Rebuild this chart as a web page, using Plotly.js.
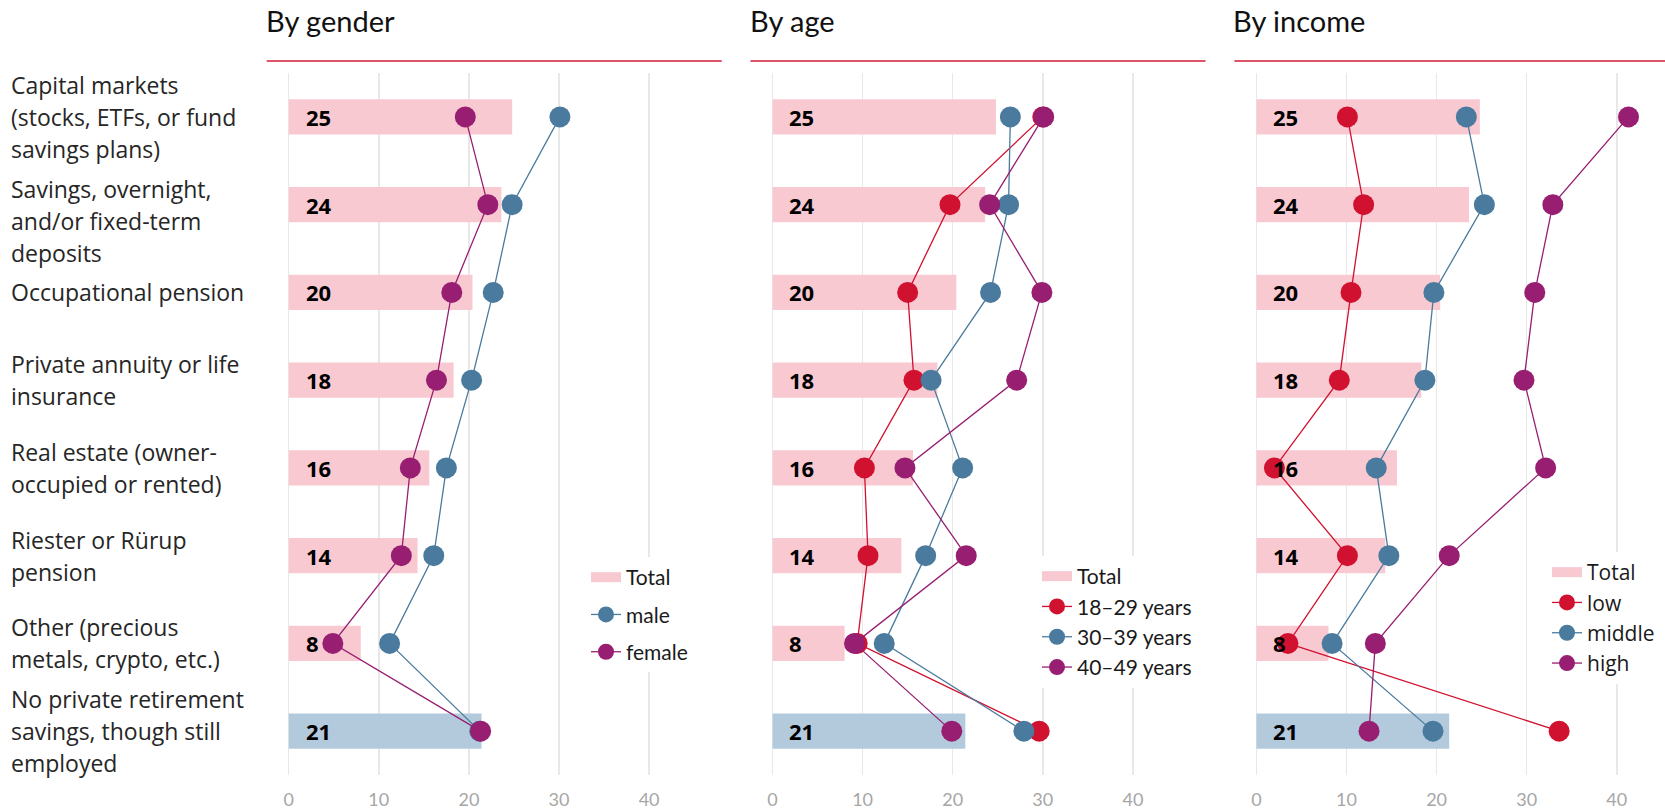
<!DOCTYPE html>
<html>
<head>
<meta charset="utf-8">
<script src="https://cdn.plot.ly/plotly-3.0.1.min.js"></script>
<style>
  html, body { margin: 0; padding: 0; background: #fff; }
  #chart { width: 1665px; height: 810px; }
</style>
</head>
<body>
<div id="chart"></div>
<script>
// Forms of private retirement saving (%), total and by group
const categories = [
  'Capital markets<br>(stocks, ETFs, or fund<br>savings plans)',
  'Savings, overnight,<br>and/or fixed-term<br>deposits',
  'Occupational pension',
  'Private annuity or life<br>insurance',
  'Real estate (owner-<br>occupied or rented)',
  'Riester or Rürup<br>pension',
  'Other (precious<br>metals, crypto, etc.)',
  'No private retirement<br>savings, though still<br>employed'
];
const total = [24.8, 23.6, 20.4, 18.3, 15.6, 14.3, 8.0, 21.4];

const male = [30.1, 24.8, 22.7, 20.3, 17.5, 16.1, 11.2, 21.2];
const female = [19.6, 22.1, 18.1, 16.4, 13.5, 12.5, 4.9, 21.3];

const age18to29 = [30.0, 19.7, 15.0, 15.7, 10.2, 10.6, 9.4, 29.6];
const age30to39 = [26.4, 26.2, 24.2, 17.6, 21.1, 17.0, 12.4, 27.9];
const age40to49 = [30.1, 24.1, 29.9, 27.1, 14.7, 21.5, 9.1, 19.9];

const incomeLow = [10.1, 11.9, 10.5, 9.2, 2.0, 10.1, 3.5, 33.6];
const incomeMiddle = [23.3, 25.3, 19.7, 18.7, 13.3, 14.7, 8.4, 19.6];
const incomeHigh = [41.3, 32.9, 30.9, 29.7, 32.1, 21.4, 13.2, 12.5];

const panelTitles = ['By gender', 'By age', 'By income'];
const totalName = 'Total';
const xTicks = [0, 10, 20, 30, 40];

// Colours
const RED = '#d0112f';
const BLUE = '#4a7a9d';
const PURPLE = '#971e70';
const BAR_PINK = '#f9c9d2';
const BAR_BLUE = '#b3cadd';
const RULE = '#dc5468';
const GRID = '#e8e8e8';
const FONT = 'Lato, "Open Sans", "Noto Sans", sans-serif';
const WIDE_FONT = '"Open Sans", Lato, "Noto Sans", sans-serif';

const panels = [
  { title: panelTitles[0], series: [
      { name: 'male', values: male, color: BLUE },
      { name: 'female', values: female, color: PURPLE } ] },
  { title: panelTitles[1], series: [
      { name: '18–29 years', values: age18to29, color: RED },
      { name: '30–39 years', values: age30to39, color: BLUE },
      { name: '40–49 years', values: age40to49, color: PURPLE } ] },
  { title: panelTitles[2], series: [
      { name: 'low', values: incomeLow, color: RED },
      { name: 'middle', values: incomeMiddle, color: BLUE },
      { name: 'high', values: incomeHigh, color: PURPLE } ] }
];

// Page geometry (pixels)
const W = 1665, H = 810;
const ZERO_PX = [288.7, 772.5, 1256.4];   // left edge (x = 0) of each panel
const UNIT_PX = 9.01;                      // pixels per percentage point
const X_MIN = -0.5, X_MAX = 45;
const PLOT_TOP = 73, PLOT_BOTTOM = 775;
const LEGEND_POS = [
  { left: 586, top: 557, gap: 7, font: FONT },
  { left: 1037, top: 556, gap: 0, font: FONT },
  { left: 1547, top: 552, gap: 0, font: WIDE_FONT }
];
const LABEL_LINE_PX = 32;
const LABEL_NUDGE = { 1: -16 };

const px = v => v / W;
const py = v => 1 - v / H;

const barColors = categories.map((c, i) => i === categories.length - 1 ? BAR_BLUE : BAR_PINK);

const traces = [];
const layout = {
  width: W, height: H,
  margin: { l: 0, r: 0, t: 0, b: 0, autoexpand: false },
  paper_bgcolor: '#fff', plot_bgcolor: 'rgba(0,0,0,0)',
  font: { family: FONT, color: '#222' },
  showlegend: true,
  hovermode: false,
  yaxis: {
    type: 'category', categoryorder: 'array', categoryarray: categories,
    range: [categories.length - 0.5, -0.5],
    domain: [py(PLOT_BOTTOM), py(PLOT_TOP)],
    showgrid: false, zeroline: false, showline: false, showticklabels: false,
    ticks: '', fixedrange: true, anchor: 'x'
  },
  annotations: [],
  shapes: []
};

panels.forEach((panel, p) => {
  const axKey = p === 0 ? 'xaxis' : 'xaxis' + (p + 1);
  const axRef = p === 0 ? 'x' : 'x' + (p + 1);
  const legendKey = p === 0 ? 'legend' : 'legend' + (p + 1);
  const z = ZERO_PX[p];

  layout[axKey] = {
    domain: [px(z + X_MIN * UNIT_PX), px(z + X_MAX * UNIT_PX)],
    range: [X_MIN, X_MAX],
    anchor: 'y',
    tickmode: 'array', tickvals: xTicks, ticktext: xTicks.map(String),
    showgrid: true, gridcolor: GRID, gridwidth: 1.5,
    zeroline: false, showline: false, ticks: '',
    ticklabelstandoff: 12,
    tickfont: { family: FONT, size: 18, color: '#a6a6a6' },
    fixedrange: true
  };

  // Total bars
  traces.push({
    type: 'bar', orientation: 'h',
    x: total, y: categories, width: 0.4,
    marker: { color: barColors, line: { width: 0 } },
    xaxis: axRef, yaxis: 'y',
    showlegend: false, hoverinfo: 'skip', cliponaxis: false
  });

  // Legend entry for the total bars
  traces.push({
    type: 'scatter', mode: 'lines',
    x: [null], y: [null], name: totalName,
    line: { color: BAR_PINK, width: 14 },
    xaxis: axRef, yaxis: 'y',
    legend: legendKey, legendgroup: legendKey + '-total'
  });

  panel.series.forEach(s => {
    traces.push({
      type: 'scatter', mode: 'lines+markers',
      x: s.values, y: categories, name: s.name,
      line: { color: s.color, width: 1.3 },
      marker: { color: s.color, size: 21, line: { width: 0 } },
      xaxis: axRef, yaxis: 'y', cliponaxis: false,
      legend: legendKey, legendgroup: legendKey + '-' + s.name
    });
  });

  const lp = LEGEND_POS[p];
  layout[legendKey] = {
    x: px(lp.left), y: py(lp.top), xanchor: 'left', yanchor: 'top',
    bgcolor: '#fff', borderwidth: 0,
    font: { family: lp.font, size: 21, color: '#1a1a1a' },
    traceorder: 'grouped', tracegroupgap: lp.gap,
    itemclick: false, itemdoubleclick: false
  };

  // Panel heading and rule
  layout.annotations.push({
    xref: 'paper', yref: 'paper',
    x: px(z - 25), y: py(20), xanchor: 'left', yanchor: 'middle',
    text: panel.title, showarrow: false,
    font: { family: FONT, size: 29, color: '#111' }
  });
  layout.shapes.push({
    type: 'line', xref: 'paper', yref: 'paper',
    x0: px(z - 22), x1: Math.min(1, px(z - 22 + 455)), y0: py(61), y1: py(61),
    line: { color: RULE, width: 2 }
  });

  // Rounded total printed at the start of each bar
  categories.forEach((c, i) => {
    layout.annotations.push({
      xref: axRef, yref: 'y', x: 0, y: c,
      xanchor: 'left', yanchor: 'middle', xshift: 15,
      text: String(Math.round(total[i])), showarrow: false,
      font: { family: WIDE_FONT, size: 22, color: '#000', weight: 'bold' }
    });
  });
});

// Category labels, left aligned, one annotation per line
categories.forEach((c, i) => {
  const lines = c.split('<br>');
  const n = lines.length;
  lines.forEach((line, j) => {
    layout.annotations.push({
      xref: 'paper', yref: 'y', x: px(9), y: c,
      xanchor: 'left', yanchor: 'middle',
      yshift: ((n - 1) / 2 - j) * LABEL_LINE_PX + (LABEL_NUDGE[i] || 0),
      text: line, showarrow: false,
      font: { family: WIDE_FONT, size: 23, color: '#262626' }
    });
  });
});

Plotly.newPlot('chart', traces, layout, { displayModeBar: false, staticPlot: true });
</script>
</body>
</html>
